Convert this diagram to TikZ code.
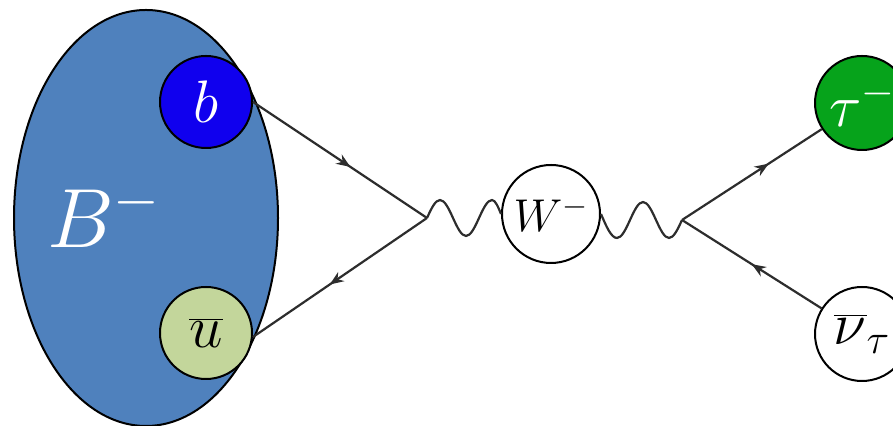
\documentclass[tikz,border=0pt]{standalone}
\usepackage{fix-cm}
\usepackage{tikz}
\usetikzlibrary{arrows.meta,positioning,calc,shapes.geometric,decorations.markings}

\definecolor{mesonblue}{RGB}{79,129,189}
\definecolor{quarkblue}{RGB}{16,0,238}
\definecolor{quarkgreen}{RGB}{195,214,155}
\definecolor{leptongreen}{RGB}{6,163,27}
\definecolor{linegray}{RGB}{45,45,45}

\begin{document}
\begin{tikzpicture}[
    x=0.5pt, y=0.5pt,
    >=Stealth,
    pnode/.style={draw, circle, minimum size=46pt, inner sep=0pt, line width=1pt,
                  font=\fontsize{30}{36}\selectfont},
    fermion/.style={draw=linegray, line width=1.1pt, postaction={decorate},
                    decoration={markings, mark=at position #1 with {\arrow{Stealth[length=7pt,width=5.5pt]}}}},
    fermion/.default=0.56,
    photon/.style={draw=linegray, line width=1.1pt},
]
  \useasboundingbox (0,0) rectangle (893,426);

  % B meson with its quarks
  \node[draw, ellipse, fill=mesonblue, line width=1pt, minimum width=132pt, minimum height=208pt] (meson) at (146,208) {};
  \node[anchor=base, text=white, font=\fontsize{42}{50}\selectfont] (mlabel) at (104,178) {$B^-$};
  \node[pnode, fill=quarkblue, text=white] (b) at (206,324) {$b$};
  \node[pnode, fill=quarkgreen] (ubar) at (206,93) {$\overline{u}$};

  % vertices and W
  \coordinate (v1) at (427,208);
  \coordinate (v2) at (682,206);
  \node[pnode, fill=white, minimum size=49pt, font=\fontsize{23}{28}\selectfont] (W) at (551,212) {$W^-$};

  % leptons
  \node[pnode, fill=leptongreen, text=white, minimum size=47pt] (tau) at (862,323) {$\tau^-$};
  \node[pnode, fill=white, minimum size=47pt] (nubar) at (862,92) {$\overline{\nu}_\tau$};

  % quark lines
  \draw[fermion] (b.east) -- (v1);
  \draw[fermion] (v1) -- (ubar.-5);
  % W propagator
  \draw[photon] (v1) sin ++(13,18) cos ++(13,-18) sin ++(13,-18) cos ++(13,18) sin ++(13,18) cos (W.west);
  \draw[photon] (v2) sin ++(-13,-18) cos ++(-13,18) sin ++(-13,18) cos ++(-13,-18) sin ++(-13,-18) cos (W.east);
  % lepton lines
  \draw[fermion=0.62] (v2) -- (tau);
  \draw[fermion=0.5] (nubar) -- (v2);
\end{tikzpicture}
\end{document}
